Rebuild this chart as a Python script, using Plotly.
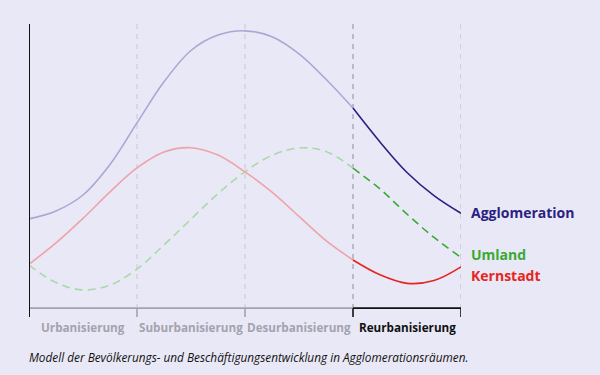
import plotly.graph_objects as go

# Phase positions (0..4 = boundaries of the four phases)
phases = ["Urbanisierung", "Suburbanisierung", "Desurbanisierung", "Reurbanisierung"]
phase_centers = [0.5, 1.5, 2.5, 3.5]

# Series values (index scale 0..100) at quarter-phase steps
x_steps = [0, 0.25, 0.5, 0.75, 1.0, 1.25, 1.5, 1.75, 2.0, 2.25, 2.5, 2.75, 3.0, 3.25, 3.5, 3.75, 4.0]
agglo_y = [31.6, 34.4, 40.0, 50.7, 65.3, 79.7, 90.7, 96.1, 97.6, 95.5, 89.5, 80.6, 70.5, 58.6, 47.9, 39.8, 33.6]
kern_y = [15.7, 23.2, 31.8, 41.1, 49.5, 55.1, 56.6, 54.0, 48.1, 41.0, 32.5, 24.0, 17.2, 12.0, 9.0, 10.0, 14.8]
umland_y = [15.4, 9.3, 6.7, 8.4, 14.0, 22.5, 31.5, 40.5, 48.2, 53.9, 56.5, 55.3, 49.4, 42.1, 33.3, 25.1, 18.1]

series = [
    ("Agglomeration", agglo_y, "#aaa7d5", "#2b2180", "solid"),
    ("Umland", umland_y, "#a9d9a6", "#3aa935", "8px,5px"),
    ("Kernstadt", kern_y, "#eea3aa", "#e52521", "solid"),
]
label_y = {"Agglomeration": 33.7, "Umland": 19.3, "Kernstadt": 11.6}

BG = "#e9e8f6"
fig = go.Figure()

for name, ys, faded, full, dash in series:
    xa = [x for x in x_steps if x <= 3]
    ya = [y for x, y in zip(x_steps, ys) if x <= 3]
    xb = [x for x in x_steps if x >= 3]
    yb = [y for x, y in zip(x_steps, ys) if x >= 3]
    fig.add_trace(go.Scatter(x=xa, y=ya, mode="lines", line=dict(color=faded, width=1.6, shape="spline", dash=dash),
                             hoverinfo="skip", showlegend=False, cliponaxis=False))
    fig.add_trace(go.Scatter(x=xb, y=yb, mode="lines", line=dict(color=full, width=1.6, shape="spline", dash=dash),
                             hoverinfo="skip", showlegend=False, cliponaxis=False))
    fig.add_annotation(x=4, y=label_y[name], xref="x", yref="y", text=name, showarrow=False,
                       xanchor="left", yanchor="middle", xshift=8,
                       font=dict(family="Open Sans", size=14, color=full, weight=700))

shapes = []
# vertical dashed phase boundaries
for xb, col in [(1, "#cfcfdc"), (2, "#cfcfdc"), (3, "#a3a3b0"), (4, "#c3c3cf")]:
    shapes.append(dict(type="line", xref="x", yref="y", x0=xb, x1=xb, y0=0, y1=100,
                       line=dict(color=col, width=1.3, dash="5px,5px"), layer="below"))
# bottom axis: grey for first three phases, black for last
shapes.append(dict(type="line", xref="x", yref="y", x0=0, x1=3, y0=0.3, y1=0.3,
                   line=dict(color="#a3a3ae", width=2)))
shapes.append(dict(type="line", xref="x", yref="y", x0=3, x1=4, y0=0.3, y1=0.3,
                   line=dict(color="#111111", width=2)))
# ticks
for xt, col in [(1, "#a3a3ae"), (2, "#a3a3ae"), (3, "#111111"), (4, "#111111")]:
    shapes.append(dict(type="line", xref="x", yref="paper", x0=xt, x1=xt, y0=0.003, y1=-0.028,
                       line=dict(color=col, width=1.6)))
# left axis
shapes.append(dict(type="line", xref="x", yref="paper", x0=0, x1=0, y0=1, y1=-0.028,
                   line=dict(color="#111111", width=2)))

for i, (p, c) in enumerate(zip(phases, phase_centers)):
    fig.add_annotation(x=c, y=0, xref="x", yref="y", text=p, showarrow=False, yshift=-18,
                       xanchor="center", yanchor="middle",
                       font=dict(family="Open Sans", size=11.7, weight=700,
                                 color="#111111" if i == 3 else "#a3a3ae"))

fig.add_annotation(xref="paper", yref="paper", x=(27 - 29) / 432, y=(309 - 357) / 285,
                   xanchor="left", yanchor="middle", showarrow=False,
                   text="Modell der Bevölkerungs- und Beschäftigungsentwicklung in Agglomerationsräumen.",
                   font=dict(family="Open Sans", size=11.8, style="italic", color="#111111"))

fig.update_layout(
    width=600, height=375,
    margin=dict(l=29, r=139, t=24, b=66),
    paper_bgcolor=BG, plot_bgcolor=BG,
    xaxis=dict(range=[0, 4], visible=False, fixedrange=True),
    yaxis=dict(range=[0, 100], visible=False, fixedrange=True),
    shapes=shapes,
)

fig.write_html("out.html", config={"displayModeBar": False},
               post_script="document.body.style.margin='0px';")
